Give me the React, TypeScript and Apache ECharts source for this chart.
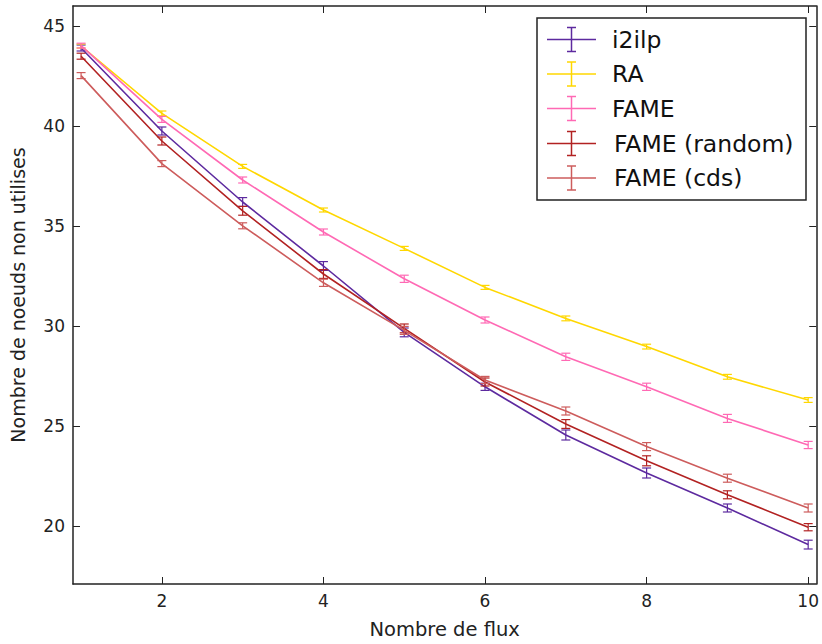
import React, { useEffect, useRef } from "react";
import * as echarts from "echarts";

const xValues = [1, 2, 3, 4, 5, 6, 7, 8, 9, 10];
const seriesNames = ["i2ilp", "RA", "FAME", "FAME (random)", "FAME (cds)"];
const seriesColors = ["#5d2a9f", "#ffd700", "#ff69b4", "#b22222", "#cd5c5c"];

const i2ilpValues = [43.9, 39.75, 36.2, 33.0, 29.68, 26.96, 24.55, 22.65, 20.9, 19.07];
const raValues = [44.0, 40.63, 37.98, 35.8, 33.88, 31.93, 30.38, 28.97, 27.46, 26.3];
const fameValues = [44.02, 40.33, 37.3, 34.7, 32.36, 30.3, 28.46, 26.96, 25.38, 24.05];
const fameRandomValues = [43.49, 39.25, 35.76, 32.6, 29.88, 27.2, 25.1, 23.26, 21.56, 19.94];
const fameCdsValues = [42.52, 38.12, 35.01, 32.16, 29.78, 27.3, 25.75, 23.97, 22.39, 20.9];

const i2ilpErrors = [0.15, 0.2, 0.22, 0.22, 0.22, 0.18, 0.25, 0.25, 0.2, 0.22];
const raErrors = [0.1, 0.12, 0.1, 0.1, 0.1, 0.1, 0.12, 0.12, 0.12, 0.12];
const fameErrors = [0.12, 0.15, 0.15, 0.15, 0.18, 0.15, 0.18, 0.18, 0.2, 0.18];
const fameRandomErrors = [0.15, 0.2, 0.22, 0.22, 0.22, 0.2, 0.22, 0.25, 0.2, 0.18];
const fameCdsErrors = [0.15, 0.15, 0.15, 0.18, 0.2, 0.18, 0.2, 0.2, 0.2, 0.2];

const allValues = [i2ilpValues, raValues, fameValues, fameRandomValues, fameCdsValues];
const allErrors = [i2ilpErrors, raErrors, fameErrors, fameRandomErrors, fameCdsErrors];

const xTicks = [2, 4, 6, 8, 10];
const yTicks = [20, 25, 30, 35, 40, 45];

const FONT = "DejaVu Sans";
const AXIS_COLOR = "#222";

export default function App() {
  const ref = useRef<HTMLDivElement>(null);

  useEffect(() => {
    document.body.style.margin = "0";
    if (!ref.current) return;
    const chart = echarts.init(ref.current, null, { renderer: "svg" });

    const lineSeries = seriesNames.map((name, i) => ({
      name,
      type: "line",
      data: xValues.map((x, j) => [x, allValues[i][j]]),
      symbol: "none",
      lineStyle: { color: seriesColors[i], width: 1.6 },
      itemStyle: { color: seriesColors[i] },
      z: 2 + i,
    }));

    const errorSeries = seriesNames.map((name, i) => ({
      name: name + " err",
      type: "custom",
      data: xValues.map((x, j) => [x, allValues[i][j] - allErrors[i][j], allValues[i][j] + allErrors[i][j]]),
      encode: { x: 0, y: [1, 2] },
      z: 2 + i,
      renderItem: (params: any, api: any) => {
        const x = api.value(0);
        const lo = api.coord([x, api.value(1)]);
        const hi = api.coord([x, api.value(2)]);
        const hw = 4.5;
        const style = { stroke: seriesColors[i], lineWidth: 1.2, fill: "none" };
        return {
          type: "group",
          children: [
            { type: "line", shape: { x1: hi[0], y1: hi[1], x2: lo[0], y2: lo[1] }, style },
            { type: "line", shape: { x1: hi[0] - hw, y1: hi[1], x2: hi[0] + hw, y2: hi[1] }, style },
            { type: "line", shape: { x1: lo[0] - hw, y1: lo[1], x2: lo[0] + hw, y2: lo[1] }, style },
          ],
        };
      },
    }));

    const legendLeft = 537;
    const legendTop = 18;
    const legendRowY = [39.5, 74, 108.5, 143.5, 178];
    const legendGraphics: any[] = [
      {
        type: "rect",
        shape: { x: legendLeft, y: legendTop, width: 269, height: 182 },
        style: { fill: "#fff", stroke: AXIS_COLOR, lineWidth: 1.5 },
        z: 100,
      },
    ];
    seriesNames.forEach((name, i) => {
      const y = legendRowY[i];
      const st = { stroke: seriesColors[i], lineWidth: 1.5 };
      legendGraphics.push(
        { type: "line", shape: { x1: 547, y1: y, x2: 596, y2: y }, style: st, z: 101 },
        { type: "line", shape: { x1: 571.5, y1: y - 12, x2: 571.5, y2: y + 12 }, style: st, z: 101 },
        { type: "line", shape: { x1: 567, y1: y - 12, x2: 576, y2: y - 12 }, style: st, z: 101 },
        { type: "line", shape: { x1: 567, y1: y + 12, x2: 576, y2: y + 12 }, style: st, z: 101 },
        {
          type: "text",
          x: i >= 3 ? 614 : 612,
          y,
          style: {
            text: name,
            fontSize: 23.5,
            fontFamily: FONT,
            fill: "#111",
            verticalAlign: "middle",
          },
          z: 101,
        }
      );
    });

    const xCommon = {
      type: "value",
      min: 0.9,
      max: 10.1,
      splitLine: { show: false },
      axisLine: { show: true, onZero: false, lineStyle: { color: AXIS_COLOR, width: 1.5 } },
      axisTick: { show: true, inside: true, length: 7, customValues: xTicks, lineStyle: { color: AXIS_COLOR, width: 1 } },
    };
    const yCommon = {
      type: "value",
      min: 17.1,
      max: 46,
      splitLine: { show: false },
      axisLine: { show: true, onZero: false, lineStyle: { color: AXIS_COLOR, width: 1.5 } },
      axisTick: { show: true, inside: true, length: 7, customValues: yTicks, lineStyle: { color: AXIS_COLOR, width: 1 } },
    };

    chart.setOption({
      animation: false,
      grid: { left: 73, right: 4, top: 6, bottom: 58, containLabel: false },
      xAxis: [
        {
          ...xCommon,
          position: "bottom",
          axisLabel: { customValues: xTicks, fontSize: 17, color: AXIS_COLOR, fontFamily: FONT, margin: 8 },
          name: "Nombre de flux",
          nameLocation: "middle",
          nameGap: 35,
          nameTextStyle: { fontSize: 19.5, color: AXIS_COLOR, fontFamily: FONT },
        },
        { ...xCommon, position: "top", axisLabel: { show: false } },
      ],
      yAxis: [
        {
          ...yCommon,
          position: "left",
          axisLabel: { customValues: yTicks, fontSize: 17, color: AXIS_COLOR, fontFamily: FONT, margin: 8 },
          name: "Nombre de noeuds non utilises",
          nameLocation: "middle",
          nameGap: 46,
          nameTextStyle: { fontSize: 19, color: AXIS_COLOR, fontFamily: FONT },
        },
        { ...yCommon, position: "right", axisLabel: { show: false } },
      ],
      series: [...lineSeries, ...errorSeries],
      graphic: legendGraphics,
    });

    return () => chart.dispose();
  }, []);

  return <div ref={ref} style={{ width: 822, height: 644 }} />;
}
